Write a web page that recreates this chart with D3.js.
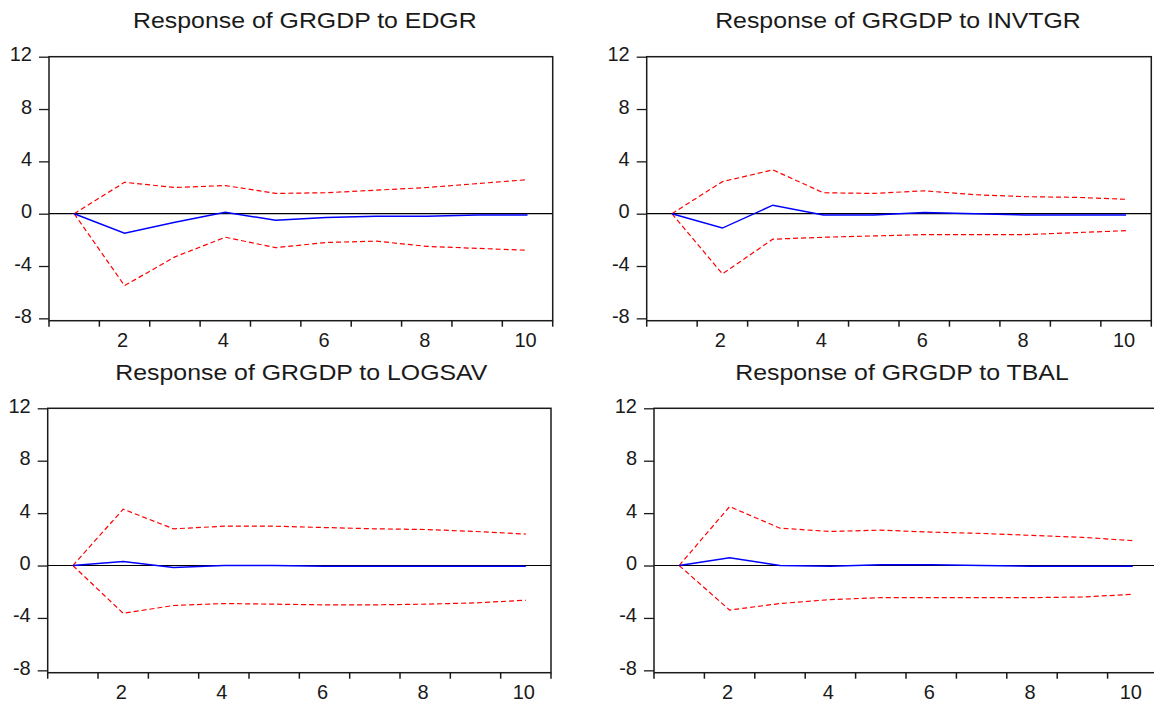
<!DOCTYPE html>
<html>
<head>
<meta charset="utf-8">
<script src="https://cdn.jsdelivr.net/npm/d3@7"></script>
<style>
  html, body { margin: 0; padding: 0; background: #fff; }
  svg { display: block; }
  text { font-family: "Liberation Sans", Arial, sans-serif; fill: #1a1a1a; }
</style>
</head>
<body>
<svg id="chart" width="1154" height="702"></svg>
<script>
// ---- data ----
const periods = [1, 2, 3, 4, 5, 6, 7, 8, 9, 10];
const xTickLabels = [2, 4, 6, 8, 10];
const yTicks = [12, 8, 4, 0, -4, -8];
const titles = [
  "Response of GRGDP to EDGR",
  "Response of GRGDP to INVTGR",
  "Response of GRGDP to LOGSAV",
  "Response of GRGDP to TBAL"
];
// EDGR
const edgrResp  = [0, -1.5, -0.65, 0.1, -0.5, -0.3, -0.2, -0.2, -0.1, -0.1];
const edgrUpper = [0, 2.4, 2.0, 2.15, 1.55, 1.6, 1.8, 2.0, 2.3, 2.6];
const edgrLower = [0, -5.5, -3.3, -1.8, -2.6, -2.2, -2.1, -2.5, -2.65, -2.8];
// INVTGR
const invtResp  = [0, -1.1, 0.65, -0.1, -0.1, 0.1, 0, -0.1, -0.1, -0.1];
const invtUpper = [0, 2.45, 3.35, 1.6, 1.55, 1.75, 1.45, 1.3, 1.25, 1.1];
const invtLower = [0, -4.6, -1.95, -1.8, -1.7, -1.6, -1.6, -1.6, -1.45, -1.3];
// LOGSAV
const lsavResp  = [0, 0.3, -0.15, 0, 0, -0.05, -0.05, -0.05, -0.05, -0.05];
const lsavUpper = [0, 4.3, 2.8, 3.0, 3.0, 2.9, 2.8, 2.75, 2.6, 2.4];
const lsavLower = [0, -3.65, -3.05, -2.9, -2.95, -3.0, -3.0, -2.95, -2.85, -2.65];
// TBAL
const tbalResp  = [0, 0.6, 0.0, -0.05, 0.05, 0.05, 0, -0.05, -0.05, -0.05];
const tbalUpper = [0, 4.5, 2.85, 2.6, 2.7, 2.55, 2.45, 2.3, 2.15, 1.9];
const tbalLower = [0, -3.4, -2.9, -2.6, -2.45, -2.45, -2.45, -2.45, -2.4, -2.2];

const series = [
  { resp: edgrResp, upper: edgrUpper, lower: edgrLower },
  { resp: invtResp, upper: invtUpper, lower: invtLower },
  { resp: lsavResp, upper: lsavUpper, lower: lsavLower },
  { resp: tbalResp, upper: tbalUpper, lower: tbalLower }
];

// ---- layout (pixels) ----
const panels = [
  { left: 49,    right: 552.7, top: 56.7,  bottom: 320.7, titleY: 28,  titleDx: 4 },
  { left: 646.7, right: 1151.3, top: 56.7, bottom: 320.7, titleY: 28,  titleDx: -1 },
  { left: 47.7,  right: 551,   top: 408.3, bottom: 672.7, titleY: 380, titleDx: 2 },
  { left: 654,   right: 1158,  top: 408.3, bottom: 672.7, titleY: 380, titleDx: -4 }
];

const svg = d3.select("#chart");

panels.forEach((p, i) => {
  const s = series[i];
  const g = svg.append("g");

  const x = d3.scaleBand().domain(periods).range([p.left, p.right]).padding(0);
  const y = d3.scaleLinear().domain([-8.18, 12]).range([p.bottom, p.top]);
  const xc = d => x(d) + x.bandwidth() / 2;

  // title
  const t = g.append("text")
    .attr("x", (p.left + p.right) / 2 + p.titleDx)
    .attr("y", p.titleY)
    .attr("text-anchor", "middle")
    .style("font-size", "22px")
    .text(titles[i]);
  const w = t.node().getComputedTextLength();
  t.attr("textLength", w * 1.13).attr("lengthAdjust", "spacingAndGlyphs");

  // y axis ticks + labels
  const yAxis = d3.axisLeft(y).tickValues(yTicks).tickSize(10).tickPadding(7).tickFormat(d => String(d));
  const ya = g.append("g").attr("transform", `translate(${p.left},0)`).call(yAxis);
  ya.select(".domain").remove();
  ya.selectAll(".tick line").attr("stroke", "#1a1a1a").attr("stroke-width", 1.3);
  ya.selectAll(".tick text").style("font-size", "20px").attr("dy", "0.2em").attr("fill", "#1a1a1a");

  // x axis ticks at band boundaries
  const bounds = periods.map(d => x(d)).concat([p.right]);
  g.selectAll(".xt").data(bounds).enter().append("line")
    .attr("x1", d => d).attr("x2", d => d)
    .attr("y1", p.bottom).attr("y2", p.bottom + 6)
    .attr("stroke", "#1a1a1a").attr("stroke-width", 1.5);
  g.selectAll(".xl").data(xTickLabels).enter().append("text")
    .attr("x", d => xc(d) - 2)
    .attr("y", p.bottom + 26)
    .attr("text-anchor", "middle")
    .style("font-size", "20px")
    .text(d => d);

  // zero line
  g.append("line")
    .attr("x1", p.left).attr("x2", p.right)
    .attr("y1", y(0)).attr("y2", y(0))
    .attr("stroke", "#000").attr("stroke-width", 1.2);

  const line = d3.line().x((d, j) => xc(periods[j])).y(d => y(d));

  g.append("path").datum(s.upper).attr("d", line)
    .attr("fill", "none").attr("stroke", "#ff0000").attr("stroke-width", 1.2)
    .attr("stroke-dasharray", "5,3");
  g.append("path").datum(s.lower).attr("d", line)
    .attr("fill", "none").attr("stroke", "#ff0000").attr("stroke-width", 1.2)
    .attr("stroke-dasharray", "5,3");
  g.append("path").datum(s.resp).attr("d", line)
    .attr("fill", "none").attr("stroke", "#0000ff").attr("stroke-width", 1.5);

  // frame
  g.append("rect")
    .attr("x", p.left).attr("y", p.top)
    .attr("width", p.right - p.left).attr("height", p.bottom - p.top)
    .attr("fill", "none").attr("stroke", "#1a1a1a").attr("stroke-width", 1.5);
});
</script>
</body>
</html>
